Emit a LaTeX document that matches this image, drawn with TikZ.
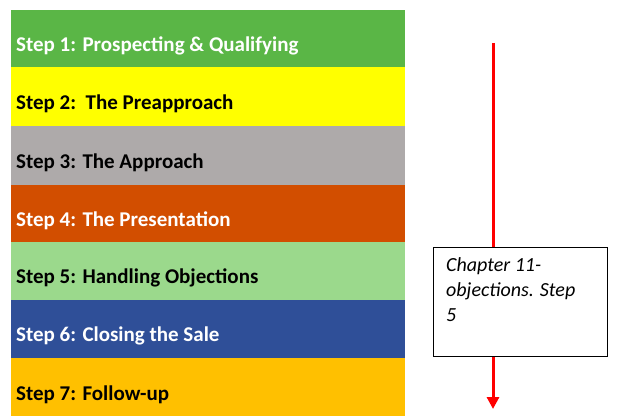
\documentclass[tikz,border=0pt]{standalone}
\usepackage{fontspec}
\setmainfont{Carlito}
\usetikzlibrary{arrows.meta}
\definecolor{c1}{HTML}{5AB646}
\definecolor{c2}{HTML}{FFFF00}
\definecolor{c3}{HTML}{AEAAAA}
\definecolor{c4}{HTML}{D24E00}
\definecolor{c5}{HTML}{9BD98C}
\definecolor{c6}{HTML}{2F4F98}
\definecolor{c7}{HTML}{FFC000}
\begin{document}
\begin{tikzpicture}[x=1pt,y=-1pt,
  lab/.style={anchor=base west,font=\fontsize{21}{24}\selectfont\bfseries,inner sep=0pt}]
\useasboundingbox (0,0) rectangle (621,419);
\fill[white] (0,0) rectangle (621,419);
\foreach \i/\t/\b/\c/\tc/\txt in {
 1/10/67/c1/white/{Step 1: Prospecting \& Qualifying},
 2/67/126/c2/black/{Step 2:\ \ The Preapproach},
 3/126/185/c3/black/{Step 3: The Approach},
 4/185/242/c4/white/{Step 4: The Presentation},
 5/242/300/c5/black/{Step 5: Handling Objections},
 6/300/358/c6/white/{Step 6: Closing the Sale},
 7/358/416/c7/black/{Step 7: Follow-up}}{
  \fill[\c] (11,\t) rectangle (405,\b);
  \node[lab,text=\tc] (s\i) at (16,{(\t+\b)/2+13}) {\txt};
}
\coordinate (atop) at (493,43);
\coordinate (abot) at (493,409);
\draw[red,line width=3pt,-{Triangle[width=12pt,length=12pt]}] (atop) -- (abot);
\node[draw=black,fill=white,line width=0.8pt,anchor=north west,minimum width=174pt,minimum height=109pt,inner sep=0pt] (box) at (433,247) {};
\node[anchor=north west,align=left,inner sep=0pt,font=\fontsize{20}{25}\selectfont\itshape] (bt) at (446,257) {Chapter 11-\\objections. Step\\5};
\end{tikzpicture}
\end{document}
